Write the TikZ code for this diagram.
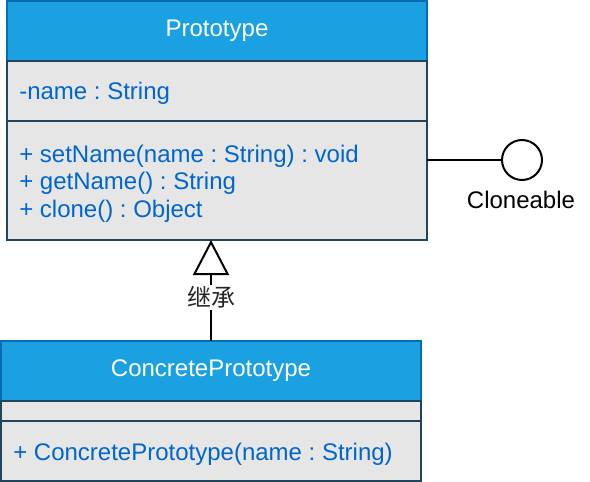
\documentclass[tikz,border=0pt]{standalone}
\usepackage{fontspec}
\setmainfont{Liberation Sans}
\newfontfamily\cjk{Noto Sans CJK SC}
\usetikzlibrary{arrows.meta}
\definecolor{hdrfill}{HTML}{1BA1E2}
\definecolor{hdrline}{HTML}{006EAF}
\definecolor{cmpfill}{HTML}{E6E6E6}
\definecolor{cmpline}{HTML}{23445D}
\definecolor{txtblue}{HTML}{0066CC}
\frenchspacing

\begin{document}
\begin{tikzpicture}[x=0.75pt,y=-0.75pt,
	  every node/.style={font=\fontsize{18}{20.6}\selectfont},
	  header/.style={draw=hdrline,fill=hdrfill,line width=1.5pt,text=white,
	                 inner sep=0pt,outer sep=0pt,anchor=north west,
	                 minimum width=315pt,minimum height=45pt},
	  compart/.style={draw=cmpline,fill=cmpfill,line width=1.5pt,
	                  inner sep=0pt,outer sep=0pt,anchor=north west,minimum width=315pt},
	  member/.style={text=txtblue,anchor=base west,inner sep=0pt},
	  link/.style={line width=1.5pt,black}]
	  \useasboundingbox (0,0) rectangle (590,482);
	  % Prototype class
	  \node[header] (proto) at (7,1) {Prototype};
	  \node[compart,minimum height=45pt] (protoattr) at (proto.south west) {};
	  \node[compart,minimum height=89.25pt] (protoops) at (protoattr.south west) {};
	  \node[member] (pname) at (19,99) {-name : String};
	  \foreach \txt [count=\i from 0] in {{+ setName(name : String) : void},
	                                      {+ getName() : String},
	                                      {+ clone() : Object}} {
	    \node[member] (op\i) at (19,162+27.5*\i) {\txt};
	  };
	  % ConcretePrototype class
	  \node[header] (conc) at (1,341) {ConcretePrototype};
	  \node[compart,minimum height=15pt] (concattr) at (conc.south west) {};
	  \node[compart,minimum height=45pt] (concops) at (concattr.south west) {};
	  \node[member] (cop) at (13,460) {+ ConcretePrototype(name : String)};
	  % Cloneable interface
	  \node[circle,draw,fill=white,line width=1.5pt,minimum size=30pt,inner sep=0pt] (iface) at (522,160) {};
	  \node (ifacelbl) at (521,200) {Cloneable};
	  \draw[link] (protoops.east |- iface.west) -- (iface.west);
	  % generalisation
	  \draw[link,-{Triangle[open,length=26.25pt,width=27pt]}] (conc.north) -- (conc.north |- protoops.south)
	    node[pos=0.43,fill=white,inner sep=1pt,text=black!85] (inh) {\cjk 继承};
\end{tikzpicture}
\end{document}
